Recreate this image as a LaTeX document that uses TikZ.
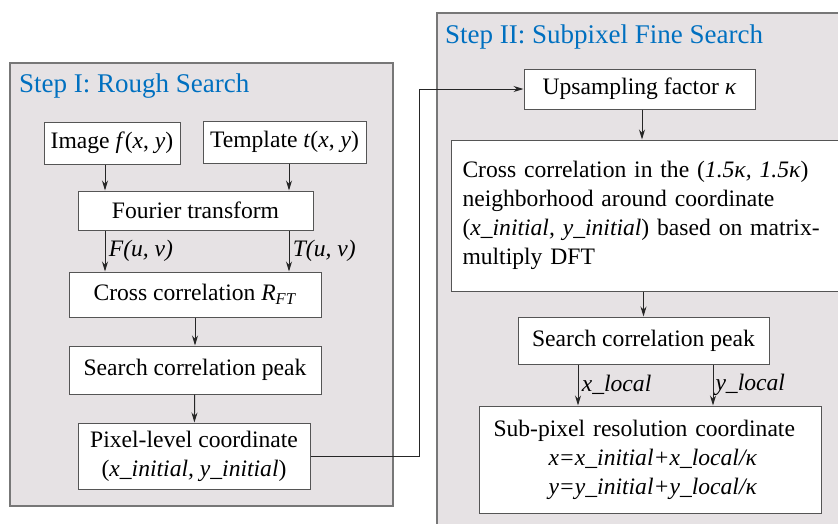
\documentclass[tikz,border=0pt]{standalone}
\usepackage{fontspec}
\setmainfont{Liberation Serif}
\usetikzlibrary{arrows.meta}
\definecolor{panelgray}{RGB}{230,226,228}
\definecolor{stepblue}{RGB}{0,112,192}
\definecolor{linegray}{RGB}{85,85,85}
\begin{document}
\begin{tikzpicture}[x=1pt,y=-1pt,
  box/.style={draw=linegray,fill=white,line width=1pt,inner sep=0pt,align=center,font=\fontsize{23.6}{29}\selectfont},
  panel/.style={draw=linegray!80,fill=panelgray,line width=1.2pt},
  title/.style={anchor=base west,inner sep=0pt,text=stepblue,font=\fontsize{27}{32}\selectfont},
  lbl/.style={right,font=\fontsize{23.6}{29}\selectfont\itshape},
  arr/.style={-{Stealth[length=10pt,width=6pt]},line width=1pt,draw=black!85}]
\useasboundingbox (0,0) rectangle (838,523);
\draw[panel] (10,63) rectangle (393,506);
\draw[panel] (437,13) rectangle (850,540);
\node[title] (t1) at (19,92) {Step I: Rough Search};
\node[title] (t2) at (445,43) {Step II: Subpixel Fine Search};
% step I
\node[box,minimum width=136pt,minimum height=42pt] (img) at (112,143) {Image \textit{f}(\textit{x}, \textit{y})};
\node[box,minimum width=163pt,minimum height=42pt] (tmpl) at (284.5,142) {Template \textit{t}(\textit{x}, \textit{y})};
\node[box,minimum width=235pt,minimum height=39pt] (fourier) at (195.5,210.5) {Fourier transform};
\node[box,minimum width=252pt,minimum height=45pt] (cross) at (195,294.5) {Cross correlation \textit{R}\textsubscript{\textit{FT}}};
\node[box,minimum width=252pt,minimum height=48pt] (peak) at (195,370) {Search correlation peak};
\node[box,minimum width=232pt,minimum height=66pt] (pixel) at (194,456) {Pixel-level coordinate\\(\textit{x\_initial, y\_initial})};
\draw[arr] ([xshift=-7pt]img.south) -- ([xshift=-7pt]img.south |- fourier.north);
\draw[arr] ([xshift=4.5pt]tmpl.south) -- ([xshift=4.5pt]tmpl.south |- fourier.north);
\draw[arr] ([xshift=-90.5pt]fourier.south) -- ([xshift=-90.5pt]fourier.south |- cross.north) node[lbl,midway] {F(u, v)};
\draw[arr] ([xshift=93.5pt]fourier.south) -- ([xshift=93.5pt]fourier.south |- cross.north) node[lbl,midway] {T(u, v)};
\draw[arr] (cross) -- (peak);
\draw[arr] (peak) -- (pixel);
% step II
\node[box,minimum width=231pt,minimum height=40pt] (ups) at (639.5,89) {Upsampling factor \textit{κ}};
\node[box,anchor=west,align=left,text width=370pt,inner xsep=11pt,minimum height=151pt] (xcorr) at (451,215.5) {Cross correlation in the (\textit{1.5κ, 1.5κ})\\neighborhood around coordinate\\(\textit{x\_initial, y\_initial}) based on matrix-\\multiply DFT};
\node[box,minimum width=251pt,minimum height=47pt] (rpeak) at (643.5,340.5) {Search correlation peak};
\node[box,anchor=west,align=left,text width=314pt,inner xsep=14pt,minimum height=107pt] (sub) at (479,459.5) {Sub-pixel resolution coordinate\\\hspace*{55pt}\textit{x=x\_initial+x\_local/κ}\\\hspace*{55pt}\textit{y=y\_initial+y\_local/κ}};
\coordinate (bend) at (419,87);
\draw[arr] (pixel.east) -- (pixel.east -| bend) |- (ups.west);
\draw[arr] ([xshift=2.5pt]ups.south) -- ([xshift=2.5pt]ups.south |- xcorr.north);
\draw[arr] (rpeak.north |- xcorr.south) -- (rpeak.north);
\draw[arr] ([xshift=-65.5pt]rpeak.south) -- ([xshift=-65.5pt]rpeak.south |- sub.north) node[lbl,midway] {x\_local};
\draw[arr] ([xshift=69.5pt]rpeak.south) -- ([xshift=69.5pt]rpeak.south |- sub.north) node[lbl,midway,inner sep=2pt] {y\_local};
\end{tikzpicture}
\end{document}
